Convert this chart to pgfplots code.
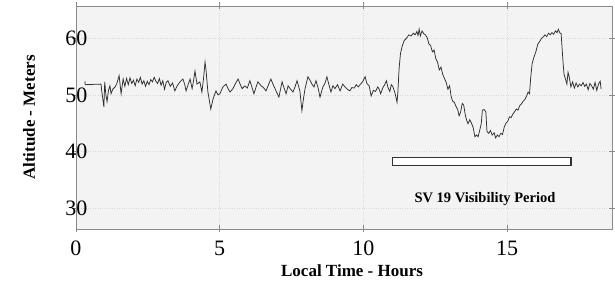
\documentclass[border=0pt]{standalone}
\usepackage{pgfplots}
\pgfplotsset{compat=1.18}
\usepackage{fontspec}
\setmainfont{Liberation Serif}
\definecolor{bgc}{HTML}{F3F3F3}
\definecolor{trace}{HTML}{2E2E2E}
\definecolor{boxc}{HTML}{8A8A8A}
\begin{document}
\begin{tikzpicture}
\begin{axis}[
  scale only axis,
  width=536pt, height=223pt,
  xmin=0, xmax=18.65, ymin=26.3, ymax=65.7,
  axis background/.style={fill=bgc},
  axis line style={draw=boxc, line width=0.8pt},
  xtick={0,5,10,15}, ytick={30,40,50,60},
  tick align=center, major tick length=7pt,
  tick style={draw=boxc, line width=0.7pt},
  /pgf/number format/assume math mode=true,
  xticklabel style={font=\fontsize{22}{22}\selectfont, anchor=center, yshift=-16pt},
  yticklabel style={font=\fontsize{22}{22}\selectfont, anchor=east, inner sep=0pt},
  yticklabel shift=-15pt,
  xlabel={Local Time - Hours},
  ylabel={Altitude - Meters},
  xlabel style={font=\fontsize{17}{17}\selectfont\bfseries, at={(axis description cs:0.515,0)}, anchor=center, yshift=-42pt},
  ylabel style={font=\fontsize{17}{17}\selectfont\bfseries, at={(axis description cs:-0.0877,0.5)}, anchor=center},
  grid=major,
  grid style={draw=gray!30, dotted, line width=0.5pt},
  clip=false,
]
\addplot[trace, line width=0.75pt, mark=none] coordinates {
(0.31,52.4) (0.32,51.8) (0.87,51.9) (0.90,50.5) (0.97,47.9) (1.00,52.3) (1.04,50.0) (1.08,48.8) (1.13,50.8) (1.18,51.6) (1.22,50.2) (1.28,51.0) (1.36,51.4) (1.42,52.0) (1.50,53.4) (1.57,50.2) (1.64,52.8)
(1.70,51.5) (1.76,52.9) (1.82,51.8) (1.88,53.0) (1.94,52.0) (2.00,52.6) (2.06,51.6) (2.12,52.8) (2.18,52.2) (2.24,53.1) (2.30,51.9) (2.36,52.5) (2.42,51.5) (2.48,52.4) (2.54,51.8) (2.60,52.7) (2.66,52.3) (2.72,53.1) (2.78,52.4) (2.84,52.0) (2.90,52.9) (2.96,51.7) (3.02,52.5) (3.08,51.0) (3.14,52.2) (3.20,52.5)
(3.28,51.5) (3.36,52.1) (3.44,50.7) (3.52,51.6) (3.62,52.3) (3.72,52.8) (3.78,51.9) (3.83,50.7) (3.90,51.8) (3.97,52.8) (4.04,51.1) (4.09,52.5) (4.14,54.2) (4.21,51.9) (4.31,52.3) (4.38,50.5) (4.44,53.0) (4.49,55.8) (4.52,54.6) (4.59,50.5) (4.69,47.5) (4.77,49.3) (4.87,50.7) (4.94,50.0) (5.01,50.2) (5.11,51.4) (5.22,51.9) (5.30,51.0) (5.36,50.5) (5.46,51.1) (5.55,52.0) (5.64,52.8) (5.71,51.9) (5.78,51.1) (5.88,51.6) (5.96,51.2) (6.05,52.5) (6.12,51.4) (6.19,50.2) (6.26,51.3) (6.33,52.3)
(6.44,51.6) (6.52,51.3) (6.61,50.7) (6.70,51.8) (6.78,52.8) (6.87,51.7) (6.96,50.7) (7.06,49.6) (7.17,52.3) (7.24,51.2) (7.31,50.2) (7.38,51.6) (7.45,51.1) (7.55,50.5) (7.62,51.4) (7.69,52.5) (7.79,50.7) (7.86,47.2) (7.92,49.5) (7.97,51.1) (8.07,53.2) (8.14,52.6) (8.21,51.9) (8.28,51.4) (8.35,52.5) (8.42,51.3) (8.49,49.6) (8.59,51.4) (8.66,52.0) (8.73,53.2) (8.80,51.8) (8.87,50.5) (8.94,51.6) (9.01,51.1) (9.10,51.8) (9.19,50.7) (9.28,51.9) (9.36,51.4) (9.44,51.0) (9.53,50.7)
(9.60,51.3) (9.68,51.2) (9.75,51.8) (9.82,51.4) (9.90,51.9) (9.97,52.3) (10.06,53.2) (10.12,52.0) (10.20,51.6) (10.27,49.8) (10.35,50.8) (10.42,50.6) (10.50,51.4) (10.55,51.0) (10.60,50.2) (10.68,51.3) (10.74,51.8) (10.80,52.5) (10.86,51.2) (10.92,50.6) (10.97,51.8) (11.03,51.4) (11.10,50.3) (11.17,48.7)
(11.20,50.5) (11.24,54.5) (11.29,57.3) (11.35,58.6) (11.42,59.6) (11.50,60.0) (11.58,60.6) (11.66,60.4) (11.74,60.9) (11.80,60.6) (11.86,61.2) (11.90,60.5) (11.94,61.6) (11.98,60.4) (12.04,61.3) (12.10,60.8) (12.16,60.6) (12.22,60.1) (12.28,59.0) (12.34,58.7) (12.40,57.6) (12.46,57.9) (12.52,56.4) (12.58,55.8) (12.64,54.4) (12.70,54.9) (12.76,53.6) (12.82,52.9) (12.88,52.2) (12.94,51.0) (13.00,51.6) (13.05,49.8) (13.10,48.9) (13.16,48.7) (13.22,48.0) (13.28,47.4) (13.33,46.3) (13.38,46.9) (13.44,48.5) (13.49,48.2) (13.55,46.3) (13.60,45.4) (13.64,44.9) (13.70,45.6) (13.76,45.0) (13.82,44.2) (13.88,42.6) (13.94,42.9) (13.99,42.6) (14.05,43.8) (14.10,44.9) (14.14,47.3) (14.20,47.4) (14.26,47.0) (14.30,43.5) (14.36,43.2) (14.42,43.7) (14.48,42.9) (14.55,43.3) (14.60,42.4) (14.66,42.9) (14.72,42.6) (14.78,43.2) (14.84,43.0) (14.90,44.3) (14.96,45.0) (15.02,45.3) (15.08,46.1) (15.14,46.0) (15.20,46.6) (15.26,47.0) (15.32,47.5) (15.38,47.3) (15.44,48.1) (15.50,48.4) (15.56,48.9) (15.62,49.2) (15.68,49.8) (15.73,50.5) (15.78,50.2)
(15.82,53.0) (15.87,55.5) (15.93,56.6) (16.00,57.6) (16.07,59.0) (16.13,59.4) (16.20,60.0) (16.25,60.2) (16.32,60.6) (16.38,60.3) (16.44,60.9) (16.50,60.6) (16.56,61.0) (16.62,60.7) (16.68,61.3) (16.74,61.0) (16.78,61.6) (16.84,60.9) (16.88,60.8) (16.91,58.5) (16.95,55.5) (16.98,53.7) (17.03,52.8) (17.08,51.9) (17.12,54.0) (17.16,53.2) (17.22,51.4) (17.28,52.3) (17.34,51.2) (17.40,52.1) (17.46,51.4) (17.52,51.9) (17.58,51.6) (17.64,52.2) (17.70,51.5) (17.76,51.9) (17.82,50.9) (17.88,52.0) (17.94,51.6) (18.00,51.0) (18.06,52.2) (18.12,50.8) (18.18,51.9) (18.24,52.4) (18.27,51.0)
};
\addplot[draw=black!80, fill=white, line width=1.2pt, mark=none] coordinates {
(11.0,37.45) (17.22,37.45) (17.22,38.87) (11.0,38.87)} -- cycle;
\node[font=\fontsize{14.5}{14.5}\selectfont\bfseries, anchor=center] at (axis cs:14.23,31.6) {SV 19 Visibility Period};
\end{axis}
\pgfresetboundingbox
\path ([xshift=-76pt,yshift=-54pt]current axis.south west) rectangle ([xshift=3pt,yshift=6pt]current axis.north east);
\end{tikzpicture}
\end{document}
